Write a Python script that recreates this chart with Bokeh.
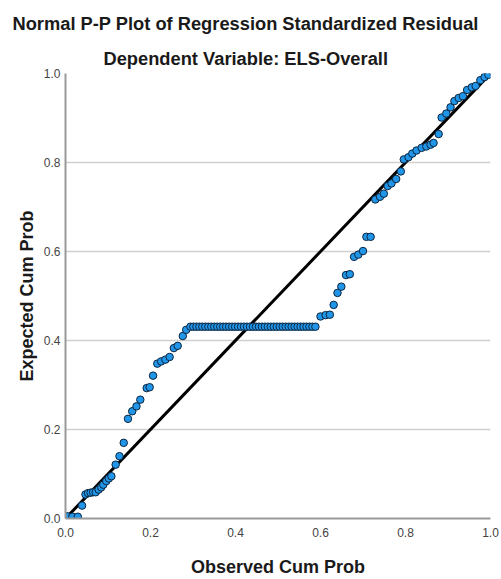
from bokeh.plotting import figure
from bokeh.models import Range1d, FixedTicker, PrintfTickFormatter, Title, ColumnDataSource
from bokeh.embed import file_html
from bokeh.resources import INLINE

# ---- data ----
obs_low = [0.004, 0.016, 0.029, 0.039, 0.047, 0.053, 0.059, 0.065, 0.071, 0.078, 0.084,
           0.089, 0.096, 0.102, 0.108, 0.118, 0.127, 0.137, 0.147, 0.157, 0.167, 0.176,
           0.191, 0.198, 0.206, 0.216, 0.225, 0.235, 0.245, 0.255, 0.264, 0.276, 0.284]
exp_low = [0.005, 0.004, 0.004, 0.029, 0.054, 0.057, 0.058, 0.059, 0.059, 0.065, 0.070,
           0.076, 0.084, 0.090, 0.095, 0.121, 0.140, 0.170, 0.224, 0.241, 0.252, 0.267,
           0.293, 0.295, 0.321, 0.348, 0.353, 0.357, 0.363, 0.383, 0.388, 0.410, 0.424]

obs_flat = [0.294, 0.301, 0.308, 0.315, 0.322, 0.329, 0.336, 0.343, 0.350, 0.357, 0.364,
            0.371, 0.378, 0.385, 0.392, 0.399, 0.406, 0.413, 0.420, 0.427, 0.434, 0.441,
            0.448, 0.455, 0.462, 0.469, 0.476, 0.483, 0.490, 0.497, 0.504, 0.511, 0.518,
            0.525, 0.532, 0.539, 0.546, 0.553, 0.560, 0.567, 0.574, 0.581, 0.588]
exp_flat = [0.431] * len(obs_flat)

obs_mid = [0.600, 0.612, 0.622, 0.631, 0.640, 0.649, 0.660, 0.669, 0.679, 0.689, 0.700,
           0.708, 0.718]
exp_mid = [0.454, 0.457, 0.458, 0.480, 0.507, 0.521, 0.547, 0.549, 0.588, 0.593, 0.601,
           0.633, 0.633]

obs_high = [0.729, 0.740, 0.749, 0.758, 0.767, 0.778, 0.789, 0.796, 0.807, 0.816, 0.826,
            0.838, 0.849, 0.859, 0.866, 0.878, 0.885, 0.896, 0.906, 0.915, 0.925, 0.935,
            0.945, 0.956, 0.965, 0.976, 0.986, 0.995]
exp_high = [0.717, 0.723, 0.730, 0.747, 0.753, 0.763, 0.780, 0.807, 0.812, 0.820, 0.827,
            0.833, 0.836, 0.840, 0.844, 0.864, 0.901, 0.910, 0.924, 0.938, 0.945, 0.949,
            0.963, 0.969, 0.972, 0.985, 0.992, 0.997]

observed = obs_low + obs_flat + obs_mid + obs_high
expected = exp_low + exp_flat + exp_mid + exp_high

ref_line_x = [0.0, 1.0]
ref_line_y = [0.0, 1.0]

tick_values = [0.0, 0.2, 0.4, 0.6, 0.8, 1.0]

title_text = "Normal P-P Plot of Regression Standardized Residual"
subtitle_text = "Dependent Variable: ELS-Overall"
x_label = "Observed Cum Prob"
y_label = "Expected Cum Prob"

FONT = "Liberation Sans"

p = figure(width=501, height=579, output_backend="svg", toolbar_location=None,
           x_range=Range1d(0, 1), y_range=Range1d(0, 1),
           min_border_left=65, min_border_right=11, min_border_bottom=60, min_border_top=73)

p.title.text = title_text
p.title.align = "left"
p.title.offset = -53
p.title.text_font = FONT
p.title.text_font_size = "18.3px"
p.title.text_font_style = "bold"
p.title.text_color = "#1a1a1a"
p.title.standoff = 15

sub = Title(text=subtitle_text, align="left", offset=38, text_font=FONT, text_font_size="18.3px",
            text_font_style="bold", text_color="#1a1a1a", standoff=9)
p.add_layout(sub, "above")

p.outline_line_color = None
p.background_fill_color = "white"
p.border_fill_color = "white"

p.xgrid.grid_line_color = None
p.ygrid.grid_line_color = "#d0d0d0"
p.ygrid.grid_line_width = 1.5
p.ygrid.ticker = FixedTicker(ticks=tick_values)

for ax in (p.xaxis, p.yaxis):
    ax.ticker = FixedTicker(ticks=tick_values)
    ax.formatter = PrintfTickFormatter(format="%.1f")
    ax.major_tick_line_color = None
    ax.minor_tick_line_color = None
    ax.major_tick_out = 0
    ax.major_tick_in = 0
    ax.minor_tick_out = 0
    ax.minor_tick_in = 0
    ax.axis_line_color = "#9a9a9a"
    ax.axis_line_width = 2
    ax.major_label_text_font = FONT
    ax.major_label_text_font_size = "12px"
    ax.major_label_text_color = "#444444"
    ax.axis_label_text_font = FONT
    ax.axis_label_text_font_size = "18px"
    ax.axis_label_text_font_style = "bold"
    ax.axis_label_text_color = "#1a1a1a"

p.xaxis.axis_label = x_label
p.yaxis.axis_label = y_label
p.xaxis.major_label_standoff = 9
p.yaxis.major_label_standoff = 5
p.xaxis.axis_label_standoff = 17
p.yaxis.axis_label_standoff = 4

p.line(ref_line_x, ref_line_y, line_color="black", line_width=3)

src = ColumnDataSource(data=dict(x=observed, y=expected))
p.scatter("x", "y", source=src, size=7.5, fill_color="#2196E8", line_color="#0B2540",
          line_width=1)

open("out.html", "w").write(file_html(p, INLINE))
